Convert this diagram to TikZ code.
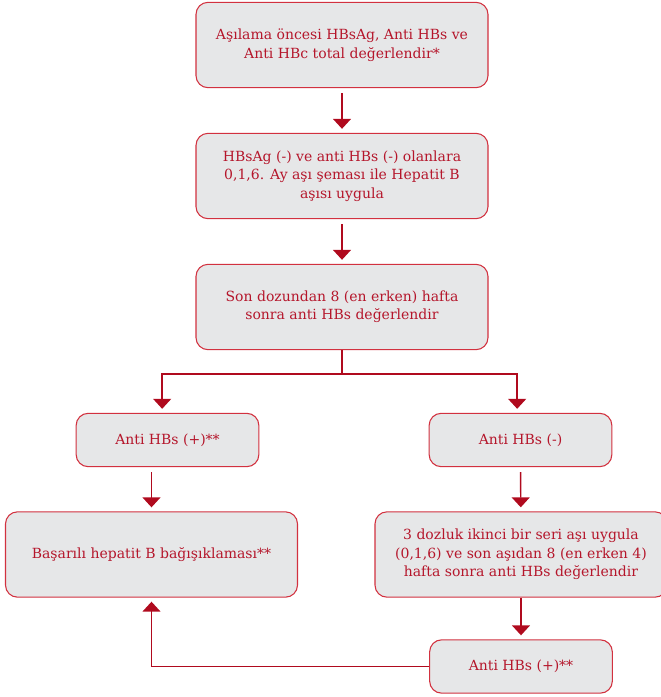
\documentclass[tikz,border=0pt]{standalone}
\usepackage{fontspec}
\setmainfont{DejaVu Serif}
\usetikzlibrary{arrows.meta}
\definecolor{boxred}{HTML}{D2313F}
\definecolor{textred}{HTML}{B5162B}
\definecolor{arrowred}{HTML}{B00A1E}
\definecolor{boxgray}{HTML}{E6E7E8}

\begin{document}
\begin{tikzpicture}[x=0.75pt, y=-0.75pt,
  main/.style = {draw=boxred, fill=boxgray, rounded corners=9pt, line width=0.8pt, text=textred, align=center, inner sep=0pt, font=\fontsize{10.5}{13.8}\selectfont},
  big/.style = {main, minimum width=219pt, minimum height=64pt},
  small/.style = {main, minimum width=137pt, minimum height=40pt},
  link/.style = {draw=arrowred, line width=1.1pt},
  tip/.style = {link, -{Triangle[width=13.5pt,length=7.5pt]}, shorten >=3pt}]

\useasboundingbox (0,0) rectangle (661,697);

\node[big] (1) at (342,45) {Aşılama öncesi HBsAg, Anti HBs ve\\Anti HBc total değerlendir*};
\node[big] (2) at (342,176) {HBsAg (-) ve anti HBs (-) olanlara\\0,1,6. Ay aşı şeması ile Hepatit B\\aşısı uygula};
\node[big] (3) at (342,307) {Son dozundan 8 (en erken) hafta\\sonra anti HBs değerlendir};
\node[small] (4) at (167.5,440) {Anti HBs (+)**};
\node[small] (5) at (520.5,440) {Anti HBs (-)};
\node[big] (6) at (151.5,554.5) {Başarılı hepatit B bağışıklaması**};
\node[big] (7) at (521,554.5) {3 dozluk ikinci bir seri aşı uygula\\(0,1,6) ve son aşıdan 8 (en erken 4)\\hafta sonra anti HBs değerlendir};
\node[small] (8) at (521,666.5) {Anti HBs (+)**};

\draw[tip, shorten <=3.75pt] (1) -- (2);
\draw[tip, shorten <=3.75pt] (2) -- (3);
\draw[link] (3.south) -- ++(0,24) coordinate (s);
\draw[tip] (s) -| ([xshift=-4pt]4.north);
\draw[tip] (s) -| ([xshift=-2.5pt]5.north);
\draw[tip, shorten <=3.75pt] (4.south -| 6.north) -- (6.north);
\draw[tip, shorten <=3.75pt] (5) -- (7);
\draw[tip] (7) -- (8);
\draw[tip] (8.west) -| (6.south);

\end{tikzpicture}
\end{document}
